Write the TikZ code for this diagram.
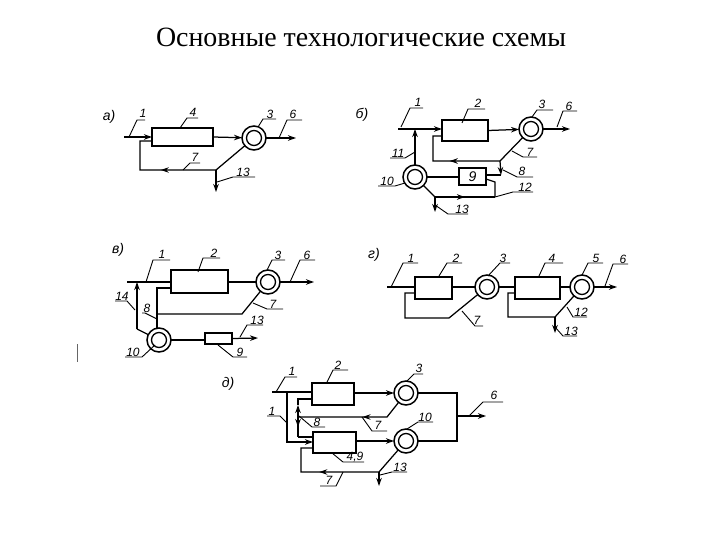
\documentclass[tikz,border=0pt]{standalone}
\usepackage{fontspec}
\setmainfont{Liberation Serif}
\newfontfamily\handfont[ItalicFont=Liberation Sans Italic]{Liberation Sans}
\usetikzlibrary{arrows.meta,decorations.markings}
\tikzset{
  flow/.style={line width=1.25pt,black},
  tip/.style={-{Stealth[length=8pt,width=5.5pt]}},
  flowmark/.style={postaction={decorate,decoration={markings,mark=at position #1 with {\arrow{Stealth[length=8pt,width=5.5pt]}}}}},
  leader/.style={line width=0.9pt,black},
  unit/.style={draw,line width=1.25pt,inner sep=0pt,outer sep=0pt},
  ring/.style={circle,draw,line width=1.5pt,minimum size=24pt,inner sep=0pt,outer sep=0pt,
    path picture={\draw[line width=1.3pt] (path picture bounding box.center) circle (7.5pt);}},
  num/.style={font=\handfont\itshape\fontsize{12}{13}\selectfont,inner sep=0pt},
  tag/.style={font=\handfont\itshape\fontsize{14}{15}\selectfont,inner sep=0pt},
}
% box by corners
\newcommand{\mkbox}[6][]{%
  \pgfmathsetmacro{\bxw}{#5-#3}\pgfmathsetmacro{\bxh}{#6-#4}%
  \pgfmathsetmacro{\bxx}{(#3+#5)/2}\pgfmathsetmacro{\bxy}{(#4+#6)/2}%
  \node[unit,minimum width=\bxw pt,minimum height=\bxh pt,font=\handfont\itshape\fontsize{14}{15}\selectfont] (#2) at (\bxx,\bxy) {#1};}
% leader line with its number
\newcommand{\lead}[6]{%
  \draw[leader] #2 -- #3 -- #4;
  \node[num] (#1) at #5 {#6};}
\begin{document}
\begin{tikzpicture}[x=1pt,y=-1pt]
\useasboundingbox (0,0) rectangle (720,540);
\fill[white] (0,0) rectangle (720,540);
\node[inner sep=0pt,font=\fontsize{27.9}{32}\selectfont] (title) at (361,37) {Основные технологические схемы};

%% a)
\node[tag] (ta) at (109,117) {а)};
\mkbox{a4}{152}{128}{213}{146}
\node[ring] (a3) at (254,138) {};
\coordinate (ain) at (124,137);
\coordinate (aout) at (296,138);
\coordinate (aj) at (216,170);
\coordinate (aL) at (140,170);
\coordinate (aU) at (140,141);
\coordinate (adn) at (216,192);
\draw[flow,tip] (ain) -- (ain -| a4.west);
\draw[flow,tip] (a4.east) -- (a3);
\draw[flow,tip] (a3) -- (aout);
\draw[flow,flowmark=0.6] (a3) -- (aj) -- (aL) -- (aU) -- (aU -| a4.west);
\draw[flow,tip] (aj) -- (adn);
\lead{an1}{(129,137)}{(137,120)}{(145,120)}{(143,113)}{1}
\lead{an4}{(180,128)}{(187,118)}{(198,118)}{(193,112)}{4}
\lead{an3}{(258,127)}{(263,119)}{(276,119)}{(270,114)}{3}
\lead{an6}{(279,138)}{(287,120)}{(302,120)}{(293,114)}{6}
\lead{an7}{(183,170)}{(190,163)}{(200,163)}{(195,157)}{7}
\lead{an13}{(217,182)}{(233,177)}{(255,177)}{(243,172)}{13}

%% b)
\node[tag] (tb) at (362,115) {б)};
\mkbox{b2}{442}{120}{488}{141}
\mkbox[9]{b9}{459}{168}{486}{185}
\node[ring] (b3) at (531,129) {};
\node[ring] (b10) at (415,177) {};
\coordinate (bin) at (398,129);
\coordinate (bout) at (570,129);
\coordinate (bj7) at (500,161);
\coordinate (bL) at (433,161);
\coordinate (bU) at (433,136);
\coordinate (bj8) at (501,175);
\coordinate (bt) at (415,129);
\coordinate (bS) at (495,182);
\coordinate (bS2) at (495,197);
\coordinate (bj13) at (435,197);
\coordinate (bdn) at (435,212);
\draw[flow,tip] (bin) -- (bin -| b2.west);
\draw[flow,tip] (b2.east) -- (b3);
\draw[flow,tip] (b3) -- (bout);
\draw[flow,flowmark=0.62] (b3) -- (bj7) -- (bL) -- (bU) -- (bU -| b2.west);
\draw[flow,tip] (bj7) -- (bj8);
\draw[flow] (bj8) -- (bj8 -| b9.east);
\draw[flow] (b10) -- (b10 -| b9.west);
\draw[flow] (486,179) -- (bS) -- (bS2);
\draw[flow,flowmark=0.5] (bj13) -- (bS2);
\draw[flow] (bj13) -- (b10);
\draw[flow,tip] (bj13) -- (bdn);
\draw[flow,tip] (b10) -- (bt);
\lead{bn1}{(401,127)}{(410,108)}{(423,108)}{(418,102)}{1}
\lead{bn2}{(462,123)}{(468,109)}{(485,109)}{(478,103)}{2}
\lead{bn3}{(532,117)}{(537,110)}{(553,110)}{(542,104)}{3}
\lead{bn6}{(557,127)}{(563,111)}{(577,111)}{(569,106)}{6}
\lead{bn7}{(512,151)}{(523,157)}{(537,157)}{(530,152)}{7}
\lead{bn8}{(503,170)}{(517,177)}{(533,177)}{(522,171)}{8}
\lead{bn12}{(495,197)}{(513,192)}{(533,192)}{(525,187)}{12}
\lead{bn13}{(435,205)}{(448,214)}{(468,214)}{(462,209)}{13}
\lead{bn11}{(415,152)}{(405,158)}{(390,158)}{(398,153)}{11}
\lead{bn10}{(405,183)}{(395,186)}{(378,186)}{(387,181)}{10}

%% v)
\node[tag] (tv) at (118,250) {в)};
\mkbox{v2}{171}{270}{228}{293}
\mkbox{v9}{205}{333}{232}{344}
\node[ring] (v3) at (268,282) {};
\node[ring] (v10) at (159,340) {};
\coordinate (vin) at (127,282);
\coordinate (vout) at (314,282);
\coordinate (vj) at (242,314);
\coordinate (vk) at (157,314);
\coordinate (vU) at (157,288);
\coordinate (vD) at (157,329);
\coordinate (vp) at (137,329);
\coordinate (vq) at (137,282);
\coordinate (v13) at (258,338);
\draw[flow] (vin) -- (vin -| v2.west);
\draw[flow] (v2.east |- v3) -- (v3);
\draw[flow,tip] (v3) -- (vout);
\draw[flow] (v3) -- (vj) -- (vk);
\draw[flow] (vD) -- (vU) -- (vU -| v2.west);
\draw[flow] (v10) -- (vp);
\draw[flow,tip] (vp) -- (vq);
\draw[flow] (v10) -- (v10 -| v9.west);
\draw[flow,tip] (v9.east) -- (v13);
\lead{vn1}{(146,282)}{(153,260)}{(170,260)}{(162,254)}{1}
\lead{vn2}{(198,272)}{(203,258)}{(220,258)}{(214,253)}{2}
\lead{vn3}{(267,270)}{(272,260)}{(285,260)}{(278,255)}{3}
\lead{vn6}{(290,282)}{(300,260)}{(315,260)}{(307,255)}{6}
\lead{vn7}{(253,303)}{(267,309)}{(283,309)}{(273,304)}{7}
\lead{vn8}{(157,319)}{(145,313)}{(142,313)}{(147,308)}{8}
\lead{vn14}{(135,310)}{(127,301)}{(115,301)}{(122,296)}{14}
\lead{vn10}{(155,345)}{(142,357)}{(125,357)}{(133,352)}{10}
\lead{vn9}{(218,345)}{(233,357)}{(247,357)}{(240,352)}{9}
\lead{vn13}{(240,337)}{(247,325)}{(263,325)}{(257,320)}{13}
\coordinate (mk1) at (77,344);
\coordinate (mk2) at (77,362);
\draw[line width=0.8pt,black!60] (mk1) -- (mk2);

%% g)
\node[tag] (tg) at (374,255) {г)};
\mkbox{g2}{415}{277}{452}{299}
\mkbox{g4}{515}{277}{560}{299}
\node[ring] (g3) at (487,287) {};
\node[ring] (g5) at (582,287) {};
\coordinate (gin) at (387,287);
\coordinate (gout) at (617,287);
\coordinate (gA) at (405,293);
\coordinate (gB) at (405,318);
\coordinate (gC) at (449,318);
\coordinate (gD) at (508,293);
\coordinate (gE) at (508,317);
\coordinate (gF) at (555,317);
\coordinate (gdn) at (555,333);
\draw[flow] (gin) -- (gin -| g2.west);
\draw[flow] (g2.east |- g3) -- (g3);
\draw[flow] (g3) -- (g3 -| g4.west);
\draw[flow] (g4.east |- g5) -- (g5);
\draw[flow,tip] (g5) -- (gout);
\draw[flow] (g3) -- (gC) -- (gB) -- (gA) -- (gA -| g2.west);
\draw[flow] (g5) -- (gF) -- (gE) -- (gD) -- (gD -| g4.west);
\draw[flow,tip] (gF) -- (gdn);
\lead{gn1}{(391,287)}{(403,263)}{(418,263)}{(411,258)}{1}
\lead{gn2}{(439,276)}{(447,263)}{(462,263)}{(456,258)}{2}
\lead{gn3}{(488,276)}{(500,263)}{(510,263)}{(503,258)}{3}
\lead{gn4}{(539,276)}{(545,263)}{(563,263)}{(552,258)}{4}
\lead{gn5}{(582,275)}{(588,263)}{(603,263)}{(596,258)}{5}
\lead{gn6}{(605,286)}{(613,264)}{(628,264)}{(623,259)}{6}
\lead{gn7}{(462,311)}{(475,326)}{(483,326)}{(477,320)}{7}
\lead{gn12}{(567,307)}{(573,317)}{(587,317)}{(581,312)}{12}
\lead{gn13}{(555,327)}{(563,336)}{(577,336)}{(571,331)}{13}

%% d)
\node[tag] (td) at (228,384) {д)};
\mkbox{d2}{312}{383}{354}{405}
\mkbox{d4}{313}{432}{356}{453}
\node[ring] (d3) at (406,393) {};
\node[ring] (d10) at (406,441) {};
\coordinate (din) at (272,392);
\coordinate (dbr) at (287,392);
\coordinate (dbr2) at (287,442);
\coordinate (dT) at (457,391);
\coordinate (dM) at (457,416);
\coordinate (dB) at (457,441);
\coordinate (dout) at (486,416);
\coordinate (dj) at (387,417);
\coordinate (dk) at (298,417);
\coordinate (dU) at (298,399);
\coordinate (dV) at (298,437);
\coordinate (dW) at (313,437);
\coordinate (dA) at (301,448);
\coordinate (dC) at (301,472);
\coordinate (dE) at (379,472);
\coordinate (ddn) at (379,486);
\draw[flow] (din) -- (din -| d2.west);
\draw[flow,tip] (d2.east |- d3) -- (d3);
\draw[flow] (d3.east) -- (d3.east -| dT) -- (dB) -- (d10.east);
\draw[flow,tip] (dM) -- (dout);
\draw[flow,tip] (dbr) -- (dbr2) -- (dbr2 -| d4.west);
\draw[flow,tip] (d4.east |- d10) -- (d10);
\draw[flow,flowmark=0.4] (d3) -- (dj) -- (dk);
\draw[flow,tip] (dk) -- (d2.south -| dU);
\draw[flow] (d2.south -| dU) -- (dU) -- (dU -| d2.west);
\draw[flow,flowmark=0.5] (dk) -- (dV);
\draw[flow] (dV) -- (dW);
\draw[flow,flowmark=0.62] (d10) -- (dE) -- (dC) -- (dA) -- (dA -| d4.west);
\draw[flow,tip] (dE) -- (ddn);
\lead{dn1}{(276,392)}{(285,377)}{(297,377)}{(292,371)}{1}
\lead{dn2}{(327,382)}{(333,370)}{(348,370)}{(338,365)}{2}
\lead{dn3}{(407,381)}{(414,374)}{(423,374)}{(419,368)}{3}
\lead{dn1b}{(287,423)}{(280,416)}{(267,416)}{(272,411)}{1}
\lead{dn8}{(299,416)}{(312,427)}{(325,427)}{(317,422)}{8}
\lead{dn7}{(362,417)}{(372,431)}{(387,431)}{(378,425)}{7}
\lead{dn10}{(407,429)}{(418,422)}{(433,422)}{(425,417)}{10}
\lead{dn6}{(469,416)}{(483,402)}{(503,402)}{(494,395)}{6}
\lead{dn49}{(332,453)}{(343,462)}{(364,462)}{(355,457)}{4,9}
\lead{dn7b}{(343,472)}{(336,486)}{(320,486)}{(329,480)}{7}
\lead{dn13}{(380,475)}{(392,472)}{(407,472)}{(400,467)}{13}
\end{tikzpicture}
\end{document}
